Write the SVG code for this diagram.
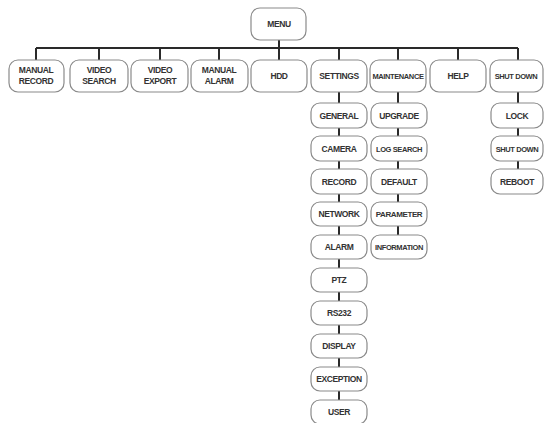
<svg xmlns="http://www.w3.org/2000/svg" width="544" height="423" viewBox="0 0 544 423">
<style>
.b{fill:#fff;stroke:#8a8a8a;stroke-width:1.2}
.t{font-family:"Liberation Sans",Arial,sans-serif;font-weight:bold;font-size:8.5px;fill:#333;text-anchor:middle;letter-spacing:-0.4px}
.s{font-size:7.5px}
.c{stroke:#2a2a2a;stroke-width:2;fill:none}
</style>
<rect width="544" height="423" fill="#fff"/>
<g id="connectors">
<path class="c" d="M279 40V48M36 48H518M36 48V60M99 48V60M160 48V60M219 48V60M279 48V60M339 48V60M398 48V60M458 48V60M518 48V60"/>
<path class="c" d="M339 92V103M339 128V136M339 161V169M339 194V202M339 226V235M339 259V268M339 292V301M339 325V334M339 358V367M339 391V400"/>
<path class="c" d="M398 92V103M398 128V136M398 161V169M398 194V202M398 226V235"/>
<path class="c" d="M518 92V103M518 128V136M518 161V169"/>
</g>
<g id="menu"><rect class="b" x="251" y="8" width="55" height="32" rx="9"/><text class="t" x="279" y="27">MENU</text></g>
<g id="manual-record"><rect class="b" x="9" y="60" width="55" height="32" rx="9"/><text class="t" x="36" y="73">MANUAL</text><text class="t" x="36" y="84">RECORD</text></g>
<g id="video-search"><rect class="b" x="70" y="60" width="58" height="32" rx="9"/><text class="t" x="99" y="73">VIDEO</text><text class="t" x="99" y="84">SEARCH</text></g>
<g id="video-export"><rect class="b" x="131" y="60" width="57" height="32" rx="9"/><text class="t" x="160" y="73">VIDEO</text><text class="t" x="160" y="84">EXPORT</text></g>
<g id="manual-alarm"><rect class="b" x="191" y="60" width="57" height="32" rx="9"/><text class="t" x="219" y="73">MANUAL</text><text class="t" x="219" y="84">ALARM</text></g>
<g id="hdd"><rect class="b" x="251" y="60" width="56" height="32" rx="9"/><text class="t" x="279" y="79">HDD</text></g>
<g id="settings"><rect class="b" x="311" y="60" width="56" height="32" rx="9"/><text class="t" x="339" y="79">SETTINGS</text></g>
<g id="maintenance"><rect class="b" x="370" y="60" width="56" height="32" rx="9"/><text class="t s" x="398" y="79">MAINTENANCE</text></g>
<g id="help"><rect class="b" x="430" y="60" width="56" height="32" rx="9"/><text class="t" x="458" y="79">HELP</text></g>
<g id="shutdown-top"><rect class="b" x="490" y="60" width="53" height="32" rx="9"/><text class="t s" x="516" y="79">SHUT DOWN</text></g>
<g id="general"><rect class="b" x="311" y="103" width="56" height="25" rx="9"/><text class="t" x="339" y="119">GENERAL</text></g>
<g id="camera"><rect class="b" x="311" y="136" width="56" height="25" rx="9"/><text class="t" x="339" y="152">CAMERA</text></g>
<g id="record"><rect class="b" x="311" y="169" width="56" height="25" rx="9"/><text class="t" x="339" y="185">RECORD</text></g>
<g id="network"><rect class="b" x="311" y="202" width="56" height="24" rx="9"/><text class="t" x="339" y="217">NETWORK</text></g>
<g id="alarm"><rect class="b" x="311" y="235" width="56" height="24" rx="9"/><text class="t" x="339" y="250">ALARM</text></g>
<g id="ptz"><rect class="b" x="311" y="268" width="56" height="24" rx="9"/><text class="t" x="339" y="283">PTZ</text></g>
<g id="rs232"><rect class="b" x="311" y="301" width="56" height="24" rx="9"/><text class="t" x="339" y="316">RS232</text></g>
<g id="display"><rect class="b" x="311" y="334" width="56" height="24" rx="9"/><text class="t" x="339" y="349">DISPLAY</text></g>
<g id="exception"><rect class="b" x="311" y="367" width="56" height="24" rx="9"/><text class="t" x="339" y="382">EXCEPTION</text></g>
<g id="user"><rect class="b" x="311" y="400" width="56" height="24" rx="9"/><text class="t" x="339" y="415">USER</text></g>
<g id="upgrade"><rect class="b" x="371" y="103" width="56" height="25" rx="9"/><text class="t" x="399" y="119">UPGRADE</text></g>
<g id="log-search"><rect class="b" x="371" y="136" width="56" height="25" rx="9"/><text class="t s" x="399" y="152">LOG SEARCH</text></g>
<g id="default"><rect class="b" x="371" y="169" width="56" height="25" rx="9"/><text class="t" x="399" y="185">DEFAULT</text></g>
<g id="parameter"><rect class="b" x="371" y="202" width="56" height="24" rx="9"/><text class="t" x="399" y="217" style="font-size:8px">PARAMETER</text></g>
<g id="information"><rect class="b" x="371" y="235" width="56" height="24" rx="9"/><text class="t s" x="399" y="250">INFORMATION</text></g>
<g id="lock"><rect class="b" x="491" y="103" width="52" height="25" rx="9"/><text class="t" x="517" y="119">LOCK</text></g>
<g id="shutdown"><rect class="b" x="491" y="136" width="52" height="25" rx="9"/><text class="t s" x="517" y="152">SHUT DOWN</text></g>
<g id="reboot"><rect class="b" x="491" y="169" width="52" height="25" rx="9"/><text class="t" x="517" y="185">REBOOT</text></g>
</svg>
